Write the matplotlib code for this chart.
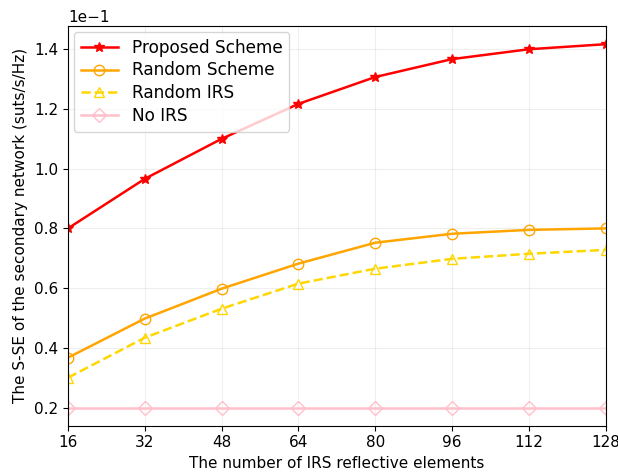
import numpy as np
import matplotlib
matplotlib.use("Agg")
import matplotlib.pyplot as plt

# number of IRS reflective elements
N = [16, 32, 48, 64, 80, 96, 112, 128]

proposed = [0.0800, 0.0966, 0.1100, 0.1217, 0.1307, 0.1367, 0.1400, 0.1417]
random_scheme = [0.0367, 0.0498, 0.0598, 0.0682, 0.0752, 0.0782, 0.0795, 0.0800]
random_irs = [0.0300, 0.0434, 0.0531, 0.0615, 0.0665, 0.0698, 0.0715, 0.0728]
no_irs = [0.0200, 0.0200, 0.0200, 0.0200, 0.0200, 0.0200, 0.0200, 0.0200]

plt.rcParams['font.size'] = 11

fig, ax = plt.subplots(figsize=(6.18, 4.73), dpi=100)
ax.plot(N, proposed, '-*', color='red', lw=1.8, ms=7, label='Proposed Scheme')
ax.plot(N, random_scheme, '-o', color='orange', lw=1.8, ms=7.5, mfc='none', label='Random Scheme')
ax.plot(N, random_irs, '--^', color='gold', lw=1.8, ms=7.5, mfc='none', label='Random IRS')
ax.plot(N, no_irs, '-D', color='pink', lw=1.8, ms=7.5, mfc='none', label='No IRS')

ax.set_xlim(16, 128)
ax.set_xticks(N)
ax.ticklabel_format(axis='y', style='sci', scilimits=(-1, -1))
ax.grid(True, alpha=0.2)
ax.set_xlabel('The number of IRS reflective elements')
ax.set_ylabel('The S-SE of the secondary network (suts/s/Hz)')
ax.legend(loc='upper left', fontsize=12.2, labelspacing=0.28, handlelength=2.2,
          borderaxespad=0.35)

fig.subplots_adjust(left=0.11, right=0.98, top=0.945, bottom=0.1)
fig.savefig('out.png', dpi=100)
